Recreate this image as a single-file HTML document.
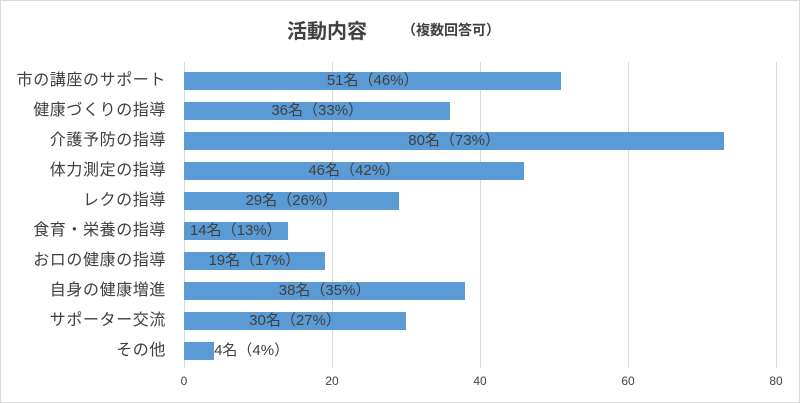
<!DOCTYPE html><html><head><meta charset="utf-8"><style>
body{margin:0;width:800px;height:403px;background:#fff;font-family:"Liberation Sans","Noto Sans CJK JP",sans-serif;color:#404040;overflow:hidden}
.f{position:absolute;left:0;top:0;width:798px;height:401px;border:1px solid #d9d9d9}
.t{position:absolute;white-space:nowrap}
.g{position:absolute;top:62px;height:306px;width:1px;background:#d9d9d9}
.b{position:absolute;left:184px;height:18px;background:#5b9bd5}
.l{position:absolute;right:634px;font-size:16px;white-space:nowrap;line-height:18px;letter-spacing:0.6px}
.v{position:absolute;font-size:15px;line-height:18px;white-space:nowrap;transform:translateX(-50%)}
.x{position:absolute;top:374px;font-size:12px;transform:translateX(-50%)}
</style></head><body><div class="f"></div>
<div class="t" style="left:287px;top:15px;font-size:20px;font-weight:bold">活動内容</div>
<div class="t" style="left:402px;top:20px;font-size:14px;font-weight:bold">（複数回答可）</div>
<div class="g" style="left:184px"></div><div class="g" style="left:332px"></div><div class="g" style="left:480px"></div><div class="g" style="left:628px"></div><div class="g" style="left:776px"></div>
<div id="c"></div>
<div class="x" style="left:184px">0</div><div class="x" style="left:332px">20</div><div class="x" style="left:480px">40</div><div class="x" style="left:628px">60</div><div class="x" style="left:776px">80</div>
<script>
var d=[["市の講座のサポート",51,46,51],["健康づくりの指導",36,33,36],["介護予防の指導",80,73,73],["体力測定の指導",46,42,46],["レクの指導",29,26,29],["食育・栄養の指導",14,13,14],["おロの健康の指導",19,17,19],["自身の健康増進",38,35,38],["サポーター交流",30,27,30],["その他",4,4,4]];
var h="";d.forEach(function(r,i){var y=72+i*30,w=r[3]*7.4;
h+='<div class="l" style="top:'+y+'px">'+r[0]+'</div><div class="b" style="top:'+y+'px;width:'+w+'px"></div>';
var cx=r[0]=="その他"?184+w+38:184+w/2;
h+='<div class="v" style="top:'+y+'px;left:'+cx+'px">'+r[1]+'名（'+r[2]+'%）</div>';});
document.getElementById("c").innerHTML=h;
</script></body></html>
